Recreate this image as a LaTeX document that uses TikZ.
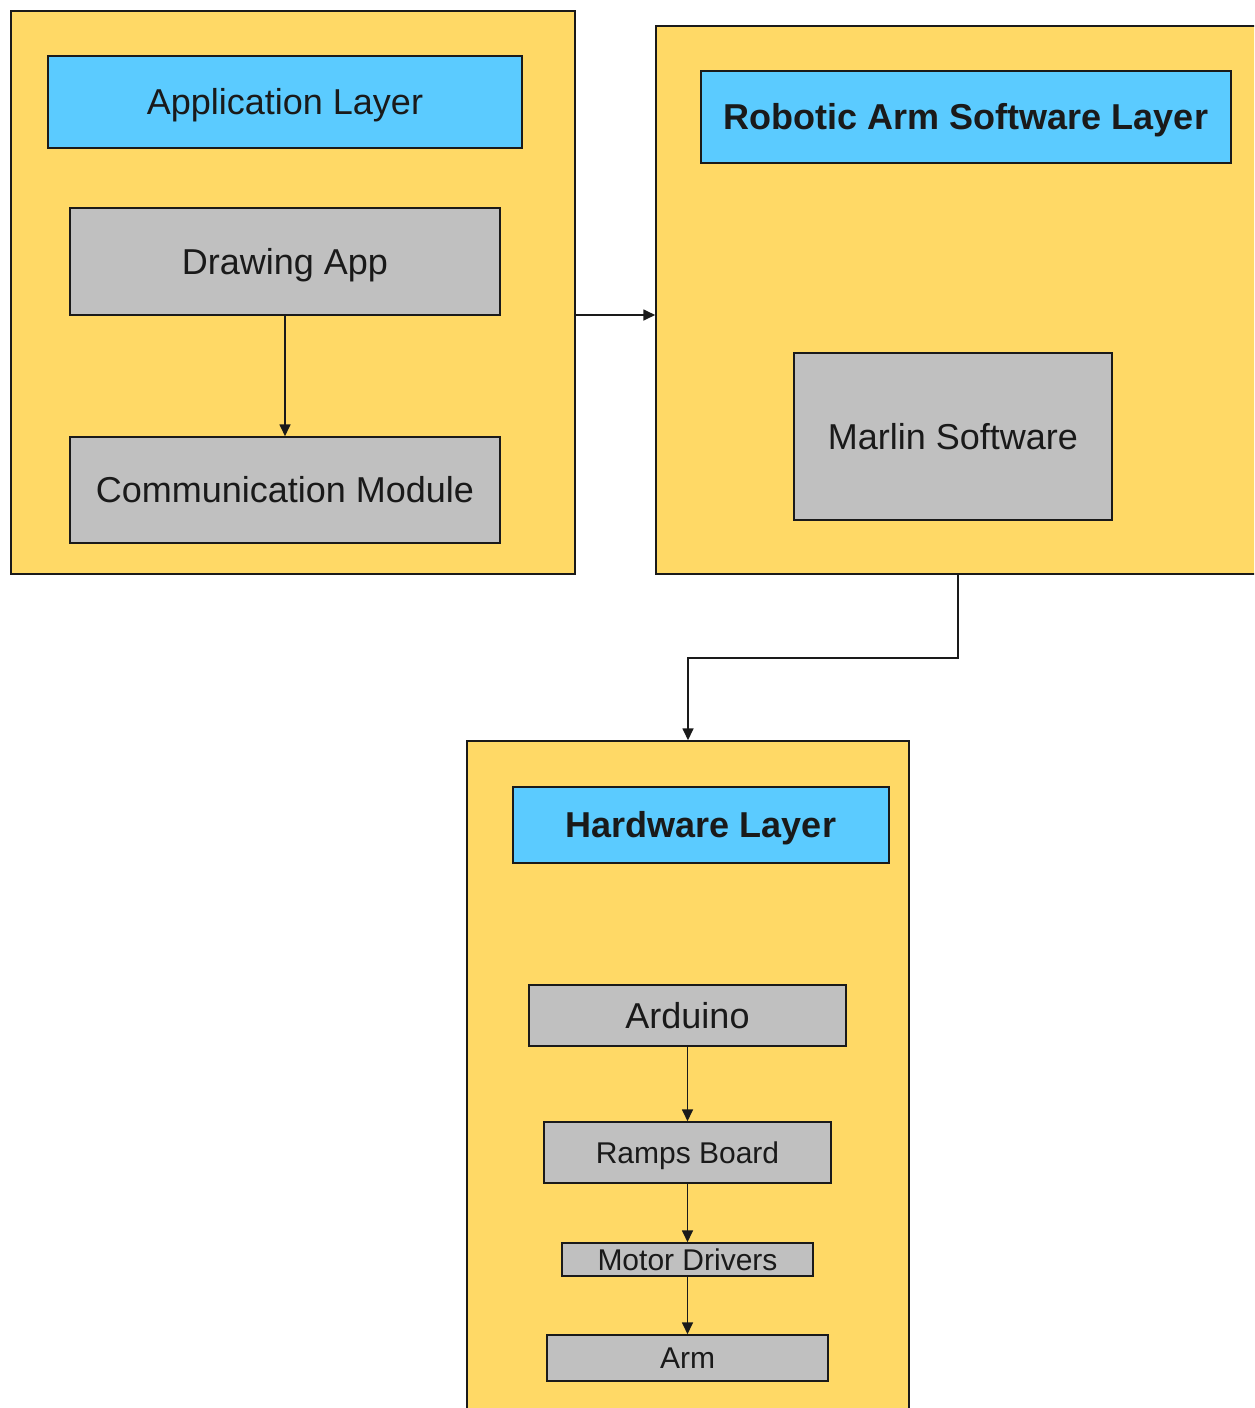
\documentclass[tikz,border=0pt]{standalone}
\usepackage{fontspec}
\setmainfont{Liberation Sans}
\usetikzlibrary{arrows.meta}
\definecolor{layerfill}{HTML}{FFD966}
\definecolor{titlefill}{HTML}{5BCBFF}
\definecolor{partfill}{HTML}{C0C0C0}
\definecolor{ink}{HTML}{1A1A1A}
\tikzset{
  box/.style={rectangle, draw=ink, line width=1.5pt, inner sep=0pt, text=ink},
  layer/.style={box, fill=layerfill},
  big/.style={font=\fontsize{36}{43}\selectfont, text height=25.8pt, text depth=0pt},
  small/.style={font=\fontsize{30}{36}\selectfont, text height=21.5pt, text depth=0pt},
  title/.style={box, fill=titlefill, big},
  boldtitle/.style={title, font=\fontsize{36}{43}\selectfont\bfseries},
  part/.style={box, fill=partfill, big},
  smallpart/.style={box, fill=partfill, small},
  link/.style={draw=ink, line width=1.7pt, -{Triangle[length=12pt,width=11pt]}},
}
\begin{document}
\begin{tikzpicture}[x=1pt,y=-1pt]
\useasboundingbox (0,0) rectangle (1254,1408);
\clip (0,0) rectangle (1254,1408);

% application layer
\node[layer, minimum width=564pt, minimum height=563pt] (app) at (293,292.5) {};
\node[title, minimum width=474pt, minimum height=92pt] (apptitle) at (285,102) {Application Layer};
\node[part, minimum width=430pt, minimum height=107pt] (draw) at (285,261.5) {Drawing App};
\node[part, minimum width=430pt, minimum height=106pt] (comm) at (285,490) {Communication Module};

% robotic arm software layer
\node[layer, minimum width=604pt, minimum height=548pt] (soft) at (958,300) {};
\node[boldtitle, minimum width=530pt, minimum height=92pt] (softtitle) at (966,117) {Robotic Arm Software Layer};
\node[part, minimum width=318pt, minimum height=167pt] (marlin) at (953,436.5) {Marlin Software};

% hardware layer
\node[layer, minimum width=442pt, minimum height=700pt] (hw) at (688,1091) {};
\node[boldtitle, minimum width=376pt, minimum height=76pt] (hwtitle) at (701,825) {Hardware Layer};
\node[part, minimum width=317pt, minimum height=61pt] (ard) at (687.5,1015.5) {Arduino};
\node[smallpart, minimum width=287pt, minimum height=61pt] (ramps) at (687.5,1152.5) {Ramps Board};
\node[smallpart, minimum width=251pt, minimum height=33pt] (motor) at (687.5,1259.5) {Motor Drivers};
\node[smallpart, minimum width=281pt, minimum height=46pt] (arm) at (687.5,1358) {Arm};

% connectors
\draw[link] (draw.south) -- (comm.north);
\draw[link] ([yshift=-22.5pt]app.east) -- ([yshift=-15pt]soft.west);
\draw[link] (soft.south) -- ++(0,83) -| (hw.north);
\draw[link] (ard.south) -- (ramps.north);
\draw[link] (ramps.south) -- (motor.north);
\draw[link] (motor.south) -- (arm.north);
\end{tikzpicture}
\end{document}
